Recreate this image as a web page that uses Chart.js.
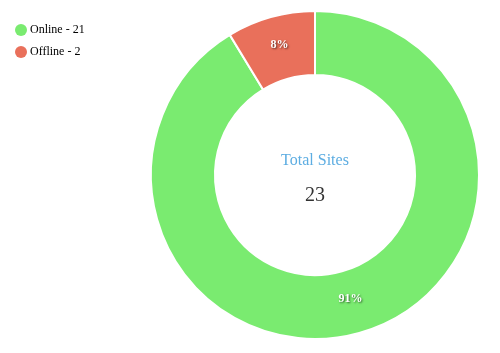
<!DOCTYPE html>
<html>
<head>
<meta charset="utf-8">
<script src="https://cdn.jsdelivr.net/npm/chart.js@4/dist/chart.umd.min.js"></script>
<style>
  html, body { margin: 0; padding: 0; background: #fff; }
  #wrap { width: 500px; height: 353px; position: relative; }
</style>
</head>
<body>
<div id="wrap"><canvas id="sitesChart"></canvas></div>
<script>
const labels = ["Online", "Offline"];
const counts = [21, 2];
const colors = ["#7aeb70", "#e9705b"];
const centerTitle = "Total Sites";
const total = counts.reduce((a, b) => a + b, 0);

const FONT = "'Liberation Serif', 'Times New Roman', serif";

// give the legend a fixed column so the ring sits where it should
const legendWidth = {
  id: "legendWidth",
  afterInit(chart) {
    const lg = chart.legend;
    const fit = lg.fit;
    lg.fit = function () {
      fit.call(this);
      this.width = 122;
    };
  },
  afterLayout(chart) {
    chart.legend.top += 4;
  }
};

// percent labels on each slice + total in the middle
const sliceText = {
  id: "sliceText",
  afterDatasetsDraw(chart) {
    const ctx = chart.ctx;
    const meta = chart.getDatasetMeta(0);
    ctx.save();
    ctx.font = "bold 12px " + FONT;
    ctx.textAlign = "center";
    ctx.textBaseline = "middle";
    ctx.fillStyle = "#fff";
    ctx.shadowColor = "rgba(0,0,0,0.6)";
    ctx.shadowBlur = 2;
    ctx.shadowOffsetX = 1;
    ctx.shadowOffsetY = 1;
    meta.data.forEach((arc, i) => {
      const p = arc.getCenterPoint();
      const pct = Math.floor((counts[i] / total) * 100);
      ctx.fillText(pct + "%", p.x, p.y - 3);
    });
    ctx.restore();

    const cx = (chart.chartArea.left + chart.chartArea.right) / 2;
    const cy = (chart.chartArea.top + chart.chartArea.bottom) / 2;
    ctx.save();
    ctx.textAlign = "center";
    ctx.textBaseline = "middle";
    ctx.font = "16px " + FONT;
    ctx.fillStyle = "#5dade2";
    ctx.fillText(centerTitle, cx, cy - 14);
    ctx.font = "20px " + FONT;
    ctx.fillStyle = "#333";
    ctx.fillText(String(total), cx, cy + 21);
    ctx.restore();
  }
};

new Chart(document.getElementById("sitesChart"), {
  type: "doughnut",
  data: {
    labels: labels,
    datasets: [{
      data: counts,
      backgroundColor: colors,
      borderColor: "#fff",
      borderWidth: 2,
      hoverOffset: 0
    }]
  },
  options: {
    responsive: true,
    maintainAspectRatio: false,
    animation: false,
    cutout: "61%",
    layout: { padding: { left: 8, top: 10, bottom: 13, right: 0 } },
    plugins: {
      legend: {
        position: "left",
        align: "start",
        labels: {
          usePointStyle: true,
          pointStyle: "circle",
          boxWidth: 6,
          boxHeight: 8.5,
          padding: 10,
          color: "#444",
          font: { family: FONT, size: 12 },
          generateLabels: (chart) => labels.map((l, i) => ({
            text: l + " - " + counts[i],
            fillStyle: colors[i],
            strokeStyle: colors[i],
            lineWidth: 0,
            pointStyle: "circle",
            hidden: false,
            index: i
          }))
        }
      },
      tooltip: { enabled: false }
    }
  },
  plugins: [legendWidth, sliceText]
});
</script>
</body>
</html>
